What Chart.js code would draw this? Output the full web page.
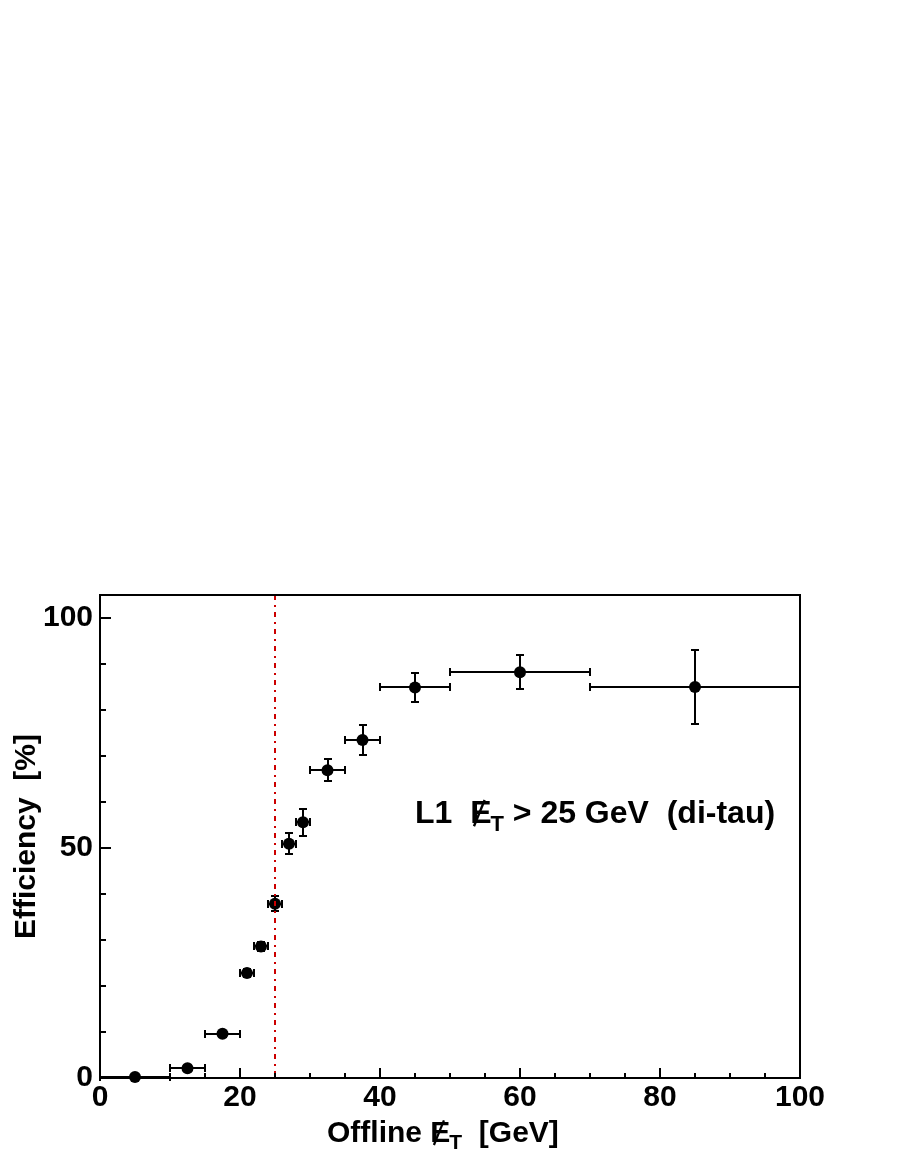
<!DOCTYPE html>
<html lang="en">
<head>
    <meta charset="utf-8" />
    <title>L1 MET efficiency</title>
    <style>
        body { margin: 0; background: #fff; }
        #effChart { display: block; }
    </style>
</head>
<body>
    <canvas id="effChart" width="900" height="1164"></canvas>
    <script src="https://cdn.jsdelivr.net/npm/chart.js"></script>
    <script>
        // bins (GeV) and measured efficiency (%)
        var binCenter = [5, 12.5, 17.5, 21, 23, 25, 27, 29, 32.5, 37.5, 45, 60, 85];
        var binLow = [0, 10, 15, 20, 22, 24, 26, 28, 30, 35, 40, 50, 70];
        var binHigh = [10, 15, 20, 22, 24, 26, 28, 30, 35, 40, 50, 70, 100];
        var efficiency = [0.2, 2.1, 9.6, 22.8, 28.6, 37.9, 50.9, 55.6, 66.9, 73.5, 84.9, 88.2, 85.0];
        var effError = [0.2, 0.5, 0.6, 0.8, 1.0, 1.7, 2.3, 2.9, 2.4, 3.2, 3.1, 3.7, 8.0];
        var xTicks = [0, 20, 40, 60, 80, 100];
        var yTicks = [0, 50, 100];
        var threshold = 25;

        var FONT = "'Liberation Sans', Arial, Helvetica, sans-serif";

        var points = binCenter.map(function (x, i) { return { x: x, y: efficiency[i] }; });

        // draws "E" with a slash and a subscript T, returns the width used
        function drawMet(ctx, x, y, size) {
            ctx.font = 'bold ' + size + 'px ' + FONT;
            var wE = ctx.measureText('E').width;
            ctx.fillText('E', x, y);
            ctx.save();
            ctx.lineWidth = size * 0.075;
            ctx.beginPath();
            ctx.moveTo(x + wE * 0.18, y + size * 0.1);
            ctx.lineTo(x + wE * 0.68, y - size * 0.72);
            ctx.stroke();
            ctx.restore();
            var sub = Math.round(size * 0.7);
            ctx.font = 'bold ' + sub + 'px ' + FONT;
            ctx.fillText('T', x + wE - 1, y + size * 0.24);
            var wT = ctx.measureText('T').width;
            ctx.font = 'bold ' + size + 'px ' + FONT;
            return wE - 1 + wT;
        }

        function drawParts(ctx, parts, x, y, size) {
            ctx.font = 'bold ' + size + 'px ' + FONT;
            ctx.textAlign = 'left';
            ctx.textBaseline = 'alphabetic';
            for (var i = 0; i < parts.length; i++) {
                if (parts[i] === '#MET') {
                    x += drawMet(ctx, x, y, size);
                } else {
                    ctx.fillText(parts[i], x, y);
                    x += ctx.measureText(parts[i]).width;
                }
            }
        }

        var rootStyle = {
            id: 'rootStyle',
            afterDatasetsDraw: function (chart) {
                var ctx = chart.ctx;
                var xs = chart.scales.x, ys = chart.scales.y;
                var area = chart.chartArea;
                ctx.save();
                ctx.strokeStyle = '#000';
                ctx.fillStyle = '#000';

                // threshold line
                ctx.save();
                ctx.strokeStyle = '#cc0000';
                ctx.lineWidth = 2;
                ctx.setLineDash([5, 5, 2, 5]);
                var xt = Math.round(xs.getPixelForValue(threshold));
                ctx.beginPath();
                ctx.moveTo(xt, area.top);
                ctx.lineTo(xt, area.bottom);
                ctx.stroke();
                ctx.restore();

                // frame
                ctx.lineWidth = 2;
                ctx.strokeRect(area.left, area.top, area.right - area.left, area.bottom - area.top);

                // ticks inside the frame
                ctx.beginPath();
                for (var v = 0; v <= 100; v += 5) {
                    var px = Math.round(xs.getPixelForValue(v));
                    var len = (v % 20 === 0) ? 10 : 5;
                    ctx.moveTo(px, area.bottom);
                    ctx.lineTo(px, area.bottom - len);
                }
                for (var w = 0; w <= 100; w += 10) {
                    var py = Math.round(ys.getPixelForValue(w));
                    var ylen = (w % 50 === 0) ? 11 : 6;
                    ctx.moveTo(area.left, py);
                    ctx.lineTo(area.left + ylen, py);
                }
                ctx.stroke();

                // labels
                drawParts(ctx, ['Offline ', '#MET', '  [GeV]'], 327, 1142, 30);
                drawParts(ctx, ['L1  ', '#MET', ' > 25 GeV  (di-tau)'], 415, 823, 32);
                ctx.restore();
            },
            beforeDatasetsDraw: function (chart) {
                // error bars with end caps
                var ctx = chart.ctx;
                var xs = chart.scales.x, ys = chart.scales.y;
                var r = Math.round;
                ctx.save();
                ctx.strokeStyle = '#000';
                ctx.lineWidth = 2;
                ctx.beginPath();
                for (var i = 0; i < binCenter.length; i++) {
                    var cx = r(xs.getPixelForValue(binCenter[i]));
                    var cy = r(ys.getPixelForValue(efficiency[i]));
                    var x1 = r(xs.getPixelForValue(binLow[i]));
                    var x2 = r(xs.getPixelForValue(binHigh[i]));
                    var y1 = r(ys.getPixelForValue(efficiency[i] - effError[i]));
                    var y2 = r(ys.getPixelForValue(efficiency[i] + effError[i]));
                    ctx.moveTo(x1, cy); ctx.lineTo(x2, cy);
                    ctx.moveTo(x1, cy - 4); ctx.lineTo(x1, cy + 4);
                    ctx.moveTo(x2, cy - 4); ctx.lineTo(x2, cy + 4);
                    ctx.moveTo(cx, y1); ctx.lineTo(cx, y2);
                    ctx.moveTo(cx - 4, y1); ctx.lineTo(cx + 4, y1);
                    ctx.moveTo(cx - 4, y2); ctx.lineTo(cx + 4, y2);
                }
                ctx.stroke();
                ctx.restore();
            }
        };

        var ctx = document.getElementById('effChart').getContext('2d');
        var effChart = new Chart(ctx, {
            type: 'scatter',
            data: {
                datasets: [{
                    data: points,
                    backgroundColor: '#000',
                    borderColor: '#000',
                    pointRadius: 6,
                    pointBorderWidth: 0,
                    clip: false
                }]
            },
            options: {
                responsive: false,
                animation: false,
                events: [],
                layout: { padding: { top: 595, right: 100, left: 0, bottom: 0 } },
                plugins: {
                    legend: { display: false },
                    tooltip: { enabled: false }
                },
                scales: {
                    x: {
                        type: 'linear',
                        min: 0,
                        max: 100,
                        grid: { display: false, drawTicks: false },
                        border: { display: false },
                        afterFit: function (scale) { scale.height = 86; },
                        afterBuildTicks: function (scale) {
                            scale.ticks = xTicks.map(function (v) { return { value: v }; });
                        },
                        ticks: {
                            padding: 2,
                            color: '#000',
                            maxRotation: 0,
                            font: { family: FONT, size: 30, weight: 'bold' }
                        }
                    },
                    y: {
                        type: 'linear',
                        min: 0,
                        max: 105,
                        grid: { display: false, drawTicks: false },
                        border: { display: false },
                        afterFit: function (scale) { scale.width = 100; },
                        afterBuildTicks: function (scale) {
                            scale.ticks = yTicks.map(function (v) { return { value: v }; });
                        },
                        ticks: {
                            padding: 7,
                            color: '#000',
                            font: { family: FONT, size: 30, weight: 'bold' }
                        },
                        title: {
                            display: true,
                            text: 'Efficiency  [%]',
                            color: '#000',
                            padding: { top: 9, bottom: 0 },
                            font: { family: FONT, size: 30, weight: 'bold' }
                        }
                    }
                }
            },
            plugins: [rootStyle]
        });
    </script>
</body>
</html>
